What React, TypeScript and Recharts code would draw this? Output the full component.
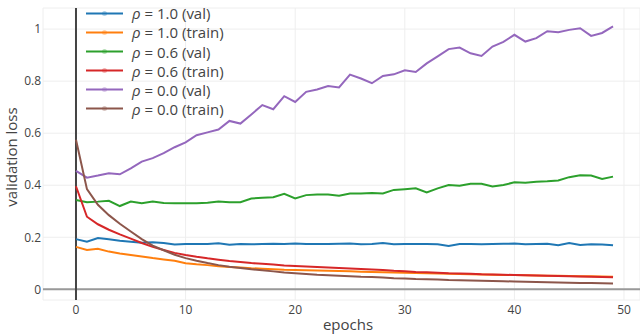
import React from 'react';
import { LineChart, Line, XAxis, YAxis, CartesianGrid, ReferenceLine, Label } from 'recharts';

const epochs = [0,1,2,3,4,5,6,7,8,9,10,11,12,13,14,15,16,17,18,19,20,21,22,23,24,25,26,27,28,29,30,31,32,33,34,35,36,37,38,39,40,41,42,43,44,45,46,47,48,49];

const rho10Val = [0.193,0.183,0.197,0.192,0.187,0.183,0.179,0.181,0.178,0.172,0.174,0.174,0.174,0.177,0.171,0.174,0.173,0.174,0.175,0.174,0.176,0.174,0.174,0.174,0.175,0.176,0.173,0.174,0.178,0.173,0.174,0.174,0.174,0.173,0.167,0.174,0.174,0.173,0.174,0.175,0.176,0.173,0.174,0.175,0.169,0.178,0.17,0.173,0.172,0.169];
const rho10Train = [0.163,0.151,0.156,0.145,0.138,0.132,0.126,0.12,0.115,0.11,0.1,0.096,0.093,0.089,0.086,0.084,0.081,0.079,0.077,0.075,0.074,0.073,0.072,0.071,0.07,0.069,0.068,0.067,0.066,0.065,0.064,0.063,0.062,0.061,0.06,0.059,0.058,0.057,0.056,0.055,0.055,0.054,0.053,0.052,0.052,0.051,0.05,0.05,0.049,0.048];
const rho06Val = [0.343,0.335,0.337,0.34,0.32,0.337,0.331,0.337,0.332,0.331,0.331,0.331,0.333,0.337,0.335,0.335,0.349,0.352,0.354,0.367,0.349,0.362,0.364,0.364,0.36,0.368,0.368,0.37,0.368,0.382,0.385,0.388,0.372,0.388,0.401,0.398,0.406,0.406,0.395,0.401,0.411,0.41,0.413,0.415,0.418,0.431,0.438,0.437,0.424,0.433];
const rho06Train = [0.396,0.279,0.25,0.229,0.211,0.195,0.178,0.163,0.151,0.14,0.132,0.125,0.119,0.114,0.109,0.105,0.101,0.098,0.095,0.092,0.09,0.088,0.086,0.084,0.082,0.08,0.078,0.076,0.074,0.071,0.069,0.067,0.066,0.064,0.062,0.061,0.06,0.058,0.057,0.056,0.055,0.054,0.053,0.052,0.051,0.05,0.049,0.048,0.047,0.046];
const rho00Val = [0.455,0.429,0.437,0.446,0.442,0.465,0.491,0.504,0.523,0.546,0.565,0.592,0.603,0.614,0.647,0.637,0.672,0.708,0.692,0.742,0.72,0.759,0.768,0.781,0.776,0.825,0.81,0.792,0.82,0.826,0.842,0.835,0.868,0.895,0.923,0.929,0.907,0.897,0.933,0.951,0.978,0.952,0.965,0.992,0.988,0.997,1.003,0.974,0.985,1.01];
const rho00Train = [0.575,0.385,0.325,0.285,0.252,0.222,0.193,0.168,0.15,0.133,0.12,0.11,0.101,0.093,0.087,0.082,0.077,0.073,0.069,0.065,0.062,0.059,0.056,0.054,0.052,0.05,0.048,0.047,0.045,0.043,0.042,0.04,0.039,0.038,0.036,0.035,0.034,0.033,0.032,0.031,0.03,0.029,0.028,0.027,0.026,0.025,0.024,0.024,0.023,0.022];

const xTicks = [0, 10, 20, 30, 40, 50];
const yTicks = [0, 0.2, 0.4, 0.6, 0.8, 1];

const seriesDefs = [
  { key: 'r10v', rho: '1.0', kind: 'val', color: '#1f77b4', values: rho10Val },
  { key: 'r10t', rho: '1.0', kind: 'train', color: '#ff7f0e', values: rho10Train },
  { key: 'r06v', rho: '0.6', kind: 'val', color: '#2ca02c', values: rho06Val },
  { key: 'r06t', rho: '0.6', kind: 'train', color: '#d62728', values: rho06Train },
  { key: 'r00v', rho: '0.0', kind: 'val', color: '#9467bd', values: rho00Val },
  { key: 'r00t', rho: '0.0', kind: 'train', color: '#8c564b', values: rho00Train },
];

const data = epochs.map((e, i) => {
  const row: any = { epoch: e };
  seriesDefs.forEach((s) => { row[s.key] = s.values[i]; });
  return row;
});

const FONT = '"Open Sans", "DejaVu Sans", sans-serif';

const LegendBox = () => (
  <div style={{ position: 'absolute', left: 86, top: 3.8, fontFamily: FONT, fontSize: 15, color: '#444', pointerEvents: 'none' }}>
    {seriesDefs.map((s) => (
      <div key={s.key} style={{ height: 19.1, display: 'flex', alignItems: 'center', whiteSpace: 'nowrap' }}>
        <svg width={46} height={19} style={{ display: 'block' }}>
          <line x1={0} y1={9.5} x2={37} y2={9.5} stroke={s.color} strokeWidth={2} />
          <circle cx={18.5} cy={9.5} r={2.5} fill={s.color} opacity={0.35} />
        </svg>
        <span><i>ρ</i> = {s.rho} ({s.kind})</span>
      </div>
    ))}
  </div>
);

export default function App() {
  return (
    <div style={{ position: 'absolute', left: 0, top: 0, width: 640, height: 334, background: '#fff' }}>
      <LineChart width={640} height={334} data={data} margin={{ top: 8, right: 0, bottom: 0, left: 0 }}>
        <CartesianGrid stroke="#eeeeee" strokeWidth={1} />
        <XAxis
          dataKey="epoch"
          type="number"
          domain={[-3.01, 51.46]}
          ticks={xTicks}
          axisLine={false}
          tickLine={false}
          tickSize={0}
          tickMargin={5}
          height={34}
          allowDataOverflow
          tick={{ fill: '#444', fontSize: 12, fontFamily: FONT }}
        >
          <Label
            content={() => (
              <text x={348} y={330} textAnchor="middle" fill="#444" fontSize={15} fontFamily={FONT}>epochs</text>
            )}
          />
        </XAxis>
        <YAxis
          type="number"
          domain={[-0.041, 1.081]}
          ticks={yTicks}
          axisLine={false}
          tickLine={false}
          tickSize={0}
          tickMargin={2}
          width={43}
          allowDataOverflow
          tick={{ fill: '#444', fontSize: 12, fontFamily: FONT }}
        >
          <Label
            content={() => (
              <text x={11} y={157} transform="rotate(-90, 11, 157)" textAnchor="middle" dominantBaseline="central" fill="#444" fontSize={15} fontFamily={FONT}>validation loss</text>
            )}
          />
        </YAxis>
        <ReferenceLine y={0} stroke="#999" strokeWidth={2} />
        <ReferenceLine x={0} stroke="#444" strokeWidth={2} />
        {seriesDefs.map((s) => (
          <Line
            key={s.key}
            type="linear"
            dataKey={s.key}
            stroke={s.color}
            strokeWidth={2}
            dot={false}
            isAnimationActive={false}
          />
        ))}
      </LineChart>
      <LegendBox />
    </div>
  );
}
